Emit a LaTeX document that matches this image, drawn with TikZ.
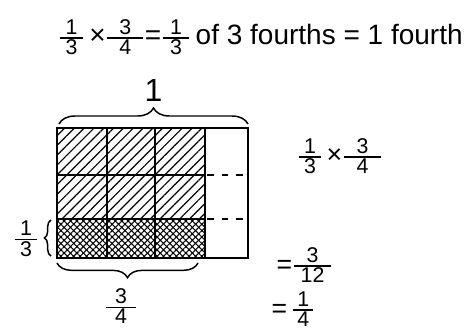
\documentclass[tikz,border=0pt]{standalone}
\usepackage{fontspec}
\setmainfont{Liberation Sans}
\usepackage{amsmath}
\usetikzlibrary{patterns.meta,decorations.pathreplacing}
\newcommand\frfont{\fontsize{16}{16}\selectfont}
\newcommand\hfr[3][12pt]{\ensuremath{\genfrac{}{}{0.9pt}{}{\makebox[#1]{\frfont #2}}{\makebox[#1]{\frfont #3}}}}
\begin{document}
\begin{tikzpicture}[x=0.75pt,y=-0.75pt,line width=1.1pt,
  lbl/.style={inner sep=0pt,font=\fontsize{20}{24}\selectfont},
  hatch/.style={pattern={Lines[angle=45,distance=5.2pt,line width=0.9pt]}},
  cross1/.style={pattern={Lines[angle=45,distance=3.4pt,line width=0.8pt]}},
  cross2/.style={pattern={Lines[angle=-45,distance=3.4pt,line width=0.8pt]}},
  brc/.style={decorate,decoration={brace,amplitude=#1},line width=1.1pt}]
\useasboundingbox (0,0) rectangle (469,330);
% title
\node[lbl,anchor=west,font=\fontsize{21}{24}\selectfont] (title) at (58,37) {\hfr[17pt]{1}{3}\,×\hfr[27pt]{3}{4}=\hfr[20pt]{1}{3}\,of 3 fourths = 1 fourth};
% grid corners
\coordinate (tl) at (57,128);
\coordinate (br) at (248,258);
\fill[hatch] (57,128) rectangle (205,219);
\fill[cross1] (57,219) rectangle (205,258);
\fill[cross2] (57,219) rectangle (205,258);
\draw (tl) rectangle (br);
\foreach \x in {107,155,205} \draw (\x,128) -- (\x,258);
\foreach \y in {175,219} {
  \draw (57,\y) -- (205,\y);
  \draw[dash pattern=on 5pt off 6pt] (207,\y) -- (248,\y);
}
% braces
\coordinate (tb1) at (59,124);
\coordinate (tb2) at (248,124);
\draw[brc=12pt] (tb1) -- (tb2) node[midway,above=16pt,lbl,font=\fontsize{24}{24}\selectfont] (one) {1};
\coordinate (bb1) at (198,263);
\coordinate (bb2) at (57,263);
\draw[brc=11pt] (bb1) -- (bb2);
\node[lbl] (tq) at (121,306) {\hfr[22pt]{3}{4}};
\coordinate (lb1) at (51,256);
\coordinate (lb2) at (51,220);
\draw[brc=5pt] (lb1) -- (lb2);
\node[lbl] (third) at (26,239) {\hfr[17pt]{1}{3}};
% right side
\node[lbl,anchor=west] (prod) at (297,156) {\hfr[16pt]{1}{3}\,×\hfr[28pt]{3}{4}};
\node[lbl,anchor=west] (twelve) at (276,265) {=\hfr[28pt]{3}{12}};
\node[lbl,anchor=west] (quarter) at (271,309) {=\,\hfr[15pt]{1}{4}};
\end{tikzpicture}
\end{document}
